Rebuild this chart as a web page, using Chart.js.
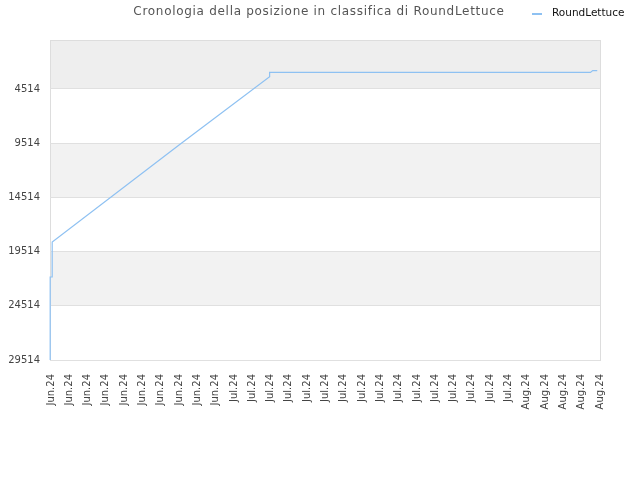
<!DOCTYPE html>
<html>
<head>
<meta charset="utf-8">
<script src="https://cdn.jsdelivr.net/npm/chart.js@4"></script>
<style>
  body { margin: 0; background: #fff; }
  canvas { display: block; }
</style>
</head>
<body>
<canvas id="chart" width="640" height="480"></canvas>
<script>
const chartTitle = 'Cronologia della posizione in classifica di RoundLettuce';
const seriesName = 'RoundLettuce';

const xLabels = [
    'Jun.24', 'Jun.24', 'Jun.24', 'Jun.24', 'Jun.24', 'Jun.24', 'Jun.24', 'Jun.24', 'Jun.24', 'Jun.24',
    'Jul.24', 'Jul.24', 'Jul.24', 'Jul.24', 'Jul.24', 'Jul.24', 'Jul.24', 'Jul.24',
    'Jul.24', 'Jul.24', 'Jul.24', 'Jul.24', 'Jul.24', 'Jul.24', 'Jul.24', 'Jul.24',
    'Aug.24', 'Aug.24', 'Aug.24', 'Aug.24', 'Aug.24'
];
const yTicks = [4514, 9514, 14514, 19514, 24514, 29514];
const bandEdges = [0, 4514, 9514, 14514, 19514, 24514, 29514];
const bandColors = ['#eeeeee', '#ffffff', '#f2f2f2', '#ffffff', '#f2f2f2', '#ffffff'];

// position in the ranking (x = label index)
const posX = [-0.04, -0.04, 0.07, 0.07, 7.09, 11.95, 11.95, 29.48, 29.6, 29.85];
const posY = [29514, 21857, 21857, 18628, 9560, 3379, 2992, 2992, 2826, 2826];

const lineColor = '#8ec1f2';

const bandsPlugin = {
    id: 'bands',
    beforeDraw(chart) {
        const {ctx, chartArea, scales} = chart;
        ctx.save();
        for (let i = 0; i < bandColors.length; i++) {
            const y1 = scales.y.getPixelForValue(bandEdges[i]);
            const y2 = scales.y.getPixelForValue(bandEdges[i + 1]);
            ctx.fillStyle = bandColors[i];
            ctx.fillRect(chartArea.left, y1, chartArea.right - chartArea.left, y2 - y1);
        }
        ctx.strokeStyle = '#dddddd';
        ctx.lineWidth = 1;
        ctx.strokeRect(chartArea.left + 0.5, chartArea.top + 0.5,
            chartArea.right - chartArea.left, chartArea.bottom - chartArea.top);
        ctx.restore();
    },
    afterDraw(chart) {
        const {ctx} = chart;
        ctx.save();
        // title
        ctx.font = '12px "DejaVu Sans"';
        ctx.letterSpacing = '0.7px';
        ctx.fillStyle = '#555555';
        ctx.textAlign = 'center';
        ctx.textBaseline = 'middle';
        ctx.fillText(chartTitle, 319, 12);
        ctx.letterSpacing = '0px';

        // legend
        ctx.strokeStyle = lineColor;
        ctx.lineWidth = 2;
        ctx.beginPath();
        ctx.moveTo(532, 14);
        ctx.lineTo(542, 14);
        ctx.stroke();
        ctx.font = '10.5px "DejaVu Sans"';
        ctx.fillStyle = '#111111';
        ctx.textAlign = 'left';
        ctx.fillText(seriesName, 552, 13);
        ctx.restore();
    }
};

new Chart(document.getElementById('chart'), {
    type: 'line',
    data: {
        datasets: [{
            label: seriesName,
            data: posX.map((x, i) => ({x: x, y: posY[i]})),
            borderColor: lineColor,
            borderWidth: 1.2,
            pointRadius: 0,
            fill: false,
            tension: 0,
            clip: 4
        }]
    },
    options: {
        responsive: false,
        animation: false,
        layout: { padding: { top: 40, right: 40, left: 0, bottom: 0 } },
        plugins: {
            legend: { display: false },
            title: { display: false },
            tooltip: { enabled: false }
        },
        scales: {
            x: {
                type: 'linear',
                min: -0.05,
                max: 30,
                afterBuildTicks: scale => { scale.ticks = xLabels.map((_, i) => ({value: i})); },
                afterFit: scale => { scale.height = 120; },
                grid: { display: false },
                border: { display: false },
                ticks: {
                    minRotation: 90,
                    maxRotation: 90,
                    autoSkip: false,
                    padding: 6,
                    font: { family: 'DejaVu Sans', size: 10 },
                    color: '#444444',
                    callback: v => xLabels[v]
                }
            },
            y: {
                reverse: true,
                min: 0,
                max: 29514,
                afterBuildTicks: scale => { scale.ticks = yTicks.map(v => ({value: v})); },
                afterFit: scale => { scale.width = 50; },
                grid: { color: '#e0e0e0', drawTicks: false },
                border: { display: false },
                ticks: {
                    padding: 10,
                    font: { family: 'DejaVu Sans', size: 10 },
                    color: '#444444',
                    callback: v => String(v)
                }
            }
        }
    },
    plugins: [bandsPlugin]
});
</script>
</body>
</html>
